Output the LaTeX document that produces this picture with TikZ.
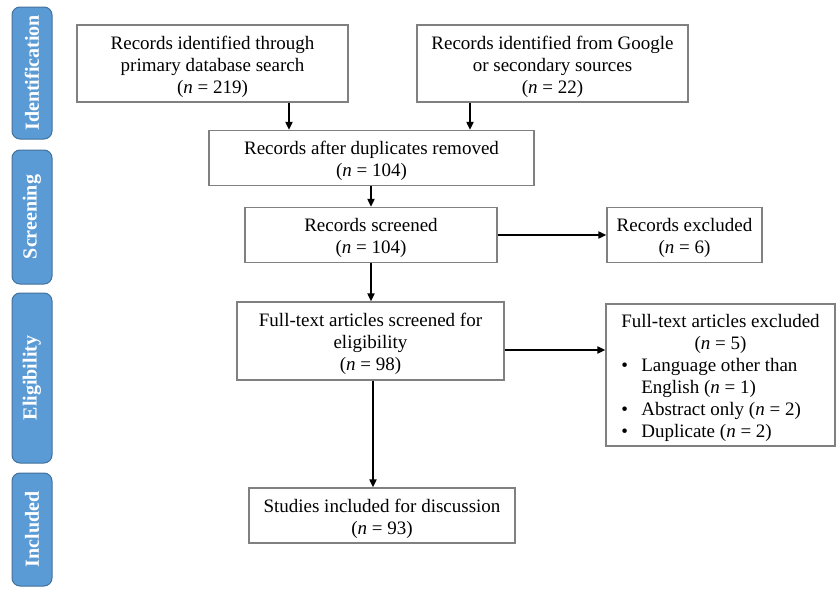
\documentclass[tikz,border=0pt]{standalone}
\usepackage{fontspec}
\setmainfont{Liberation Serif}
\usetikzlibrary{arrows.meta}
\definecolor{boxgray}{HTML}{808080}
\definecolor{phasefill}{HTML}{5B9BD5}
\definecolor{phaseedge}{HTML}{41719C}
\newcommand\topgap{\rule{0pt}{20pt}}
\begin{document}
\begin{tikzpicture}[x=1pt,y=-1pt,
 box/.style={draw=boxgray, line width=1.2pt, fill=white, inner sep=0pt, align=center, font=\fontsize{19}{22}\selectfont, text=black},
 listbox/.style={draw=boxgray, line width=1.2pt, fill=white, inner sep=0pt, font=\fontsize{19}{22}\selectfont, text=black},
 phase/.style={draw=phaseedge, fill=phasefill, rounded corners=8pt, line width=1pt, text=white, font=\fontsize{20}{22}\selectfont\bfseries, inner sep=0pt, minimum height=40pt, rotate=90},
 arr/.style={-{Triangle[length=8pt,width=7pt]}, line width=1.8pt, black}]
\useasboundingbox (0,0) rectangle (836,589);

% phase bars
\node[phase, minimum width=132pt] (p1) at (32,73) {Identification};
\node[phase, minimum width=134pt] (p2) at (32,217) {Screening};
\node[phase, minimum width=170pt] (p3) at (32,378) {Eligibility};
\node[phase, minimum width=113pt] (p4) at (32,529.5) {Included};

% boxes
\node[box, minimum width=271pt, minimum height=77pt] (A) at (212.5,63.5)
  {\topgap Records identified through\\primary database search\\(\textit{n} = 219)};
\node[box, minimum width=271pt, minimum height=77pt] (B) at (552.5,63.5)
  {\topgap Records identified from Google\\or secondary sources\\(\textit{n} = 22)};
\node[box, minimum width=325pt, minimum height=55pt] (C) at (371.5,158)
  {\topgap Records after duplicates removed\\(\textit{n} = 104)};
\node[box, minimum width=252pt, minimum height=55pt] (D) at (371,235)
  {\topgap Records screened\\(\textit{n} = 104)};
\node[box, minimum width=155pt, minimum height=55pt] (E) at (684.5,235)
  {\topgap Records excluded\\(\textit{n} = 6)};
\node[box, minimum width=267pt, minimum height=78pt] (F) at (370.5,341)
  {\topgap Full-text articles screened for\\eligibility\\(\textit{n} = 98)};
\node[listbox, minimum width=229pt, minimum height=142pt] (G) at (720.5,375)
  {\begin{tabular}{@{}p{20pt}@{}l@{}}
   \multicolumn{2}{@{}c@{}}{\rule{0pt}{21.5pt}Full-text articles excluded}\\
   \multicolumn{2}{@{}c@{}}{(\textit{n} = 5)}\\
   \textbullet & Language other than\\
               & English (\textit{n} = 1)\\
   \textbullet & Abstract only (\textit{n} = 2)\\
   \textbullet & Duplicate (\textit{n} = 2)
   \end{tabular}};
\node[box, minimum width=266pt, minimum height=55pt] (H) at (382,515.5)
  {\topgap Studies included for discussion\\(\textit{n} = 93)};

% connectors
\draw[arr] ([xshift=76.5pt]A.south) -- ([xshift=76.5pt]A.south |- C.north);
\draw[arr] ([xshift=-82.5pt]B.south) -- ([xshift=-82.5pt]B.south |- C.north);
\draw[arr] (D.north |- C.south) -- (D.north);
\draw[arr] (D.east) -- (E.west);
\draw[arr] (D.south) -- (D.south |- F.north);
\draw[arr] ([yshift=-9pt]F.east) coordinate (f1) -- (f1 -| G.west);
\draw[arr] ([xshift=2.5pt]F.south) -- ([xshift=2.5pt]F.south |- H.north);
\end{tikzpicture}
\end{document}
